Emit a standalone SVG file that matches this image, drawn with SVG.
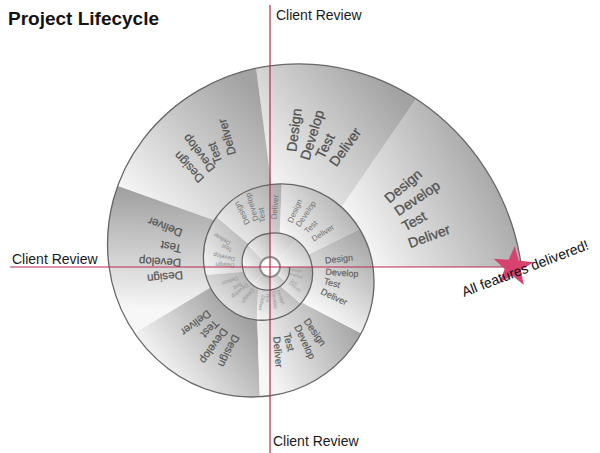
<svg xmlns="http://www.w3.org/2000/svg" width="600" height="453" viewBox="0 0 600 453">
<style>
.t{font-family:"Liberation Sans",Arial,sans-serif;text-anchor:middle;dominant-baseline:central}
.s1{font-size:14px;fill:#525252;stroke:#525252;stroke-width:0.3}
.s2{font-size:12px;fill:#555;stroke:#555;stroke-width:0.25}
.s3{font-size:11.5px;fill:#555;stroke:#555;stroke-width:0.25}
.s4{font-size:11px;fill:#575757;stroke:#575757;stroke-width:0.2}
.s5{font-size:10px;fill:#5a5a5a;stroke:#5a5a5a;stroke-width:0.2}
.s6{font-size:9px;fill:#626262;stroke:#626262;stroke-width:0.15}
.s7{font-size:8px;fill:#747474}
.s8{font-size:6px;fill:#8a8a8a}
.s9{font-size:5.5px;fill:#929292}
.s10{font-size:5px;fill:#969696}
.s11{font-size:4.5px;fill:#9a9a9a}
.lbl{font-family:"Liberation Sans",Arial,sans-serif;font-size:14px;fill:#1a1a1a}
.axis{stroke:#b52a4c;stroke-width:1.2;fill:none}
</style>
<defs>
<linearGradient id="gA" gradientUnits="userSpaceOnUse" x1="350" y1="230" x2="500" y2="150"><stop offset="0" stop-color="#f7f7f7"/><stop offset="1" stop-color="#9f9f9f"/></linearGradient>
<linearGradient id="gB" gradientUnits="userSpaceOnUse" x1="275" y1="195" x2="400" y2="95"><stop offset="0" stop-color="#f7f7f7"/><stop offset="1" stop-color="#a2a2a2"/></linearGradient>
<linearGradient id="gC" gradientUnits="userSpaceOnUse" x1="130" y1="200" x2="245" y2="80"><stop offset="0" stop-color="#f7f7f7"/><stop offset="1" stop-color="#a2a2a2"/></linearGradient>
<linearGradient id="gD" gradientUnits="userSpaceOnUse" x1="160" y1="310" x2="165" y2="190"><stop offset="0" stop-color="#f7f7f7"/><stop offset="1" stop-color="#a0a0a0"/></linearGradient>
<linearGradient id="gE" gradientUnits="userSpaceOnUse" x1="140" y1="350" x2="220" y2="285"><stop offset="0" stop-color="#f7f7f7"/><stop offset="1" stop-color="#a0a0a0"/></linearGradient>
<linearGradient id="gF" gradientUnits="userSpaceOnUse" x1="262" y1="365" x2="360" y2="320"><stop offset="0" stop-color="#f7f7f7"/><stop offset="1" stop-color="#a0a0a0"/></linearGradient>
<linearGradient id="gG" gradientUnits="userSpaceOnUse" x1="310" y1="305" x2="365" y2="235"><stop offset="0" stop-color="#f7f7f7"/><stop offset="1" stop-color="#a4a4a4"/></linearGradient>
<linearGradient id="gH" gradientUnits="userSpaceOnUse" x1="285" y1="240" x2="350" y2="190"><stop offset="0" stop-color="#f7f7f7"/><stop offset="1" stop-color="#a8a8a8"/></linearGradient>
<linearGradient id="gS" x1="0" y1="1" x2="1" y2="0"><stop offset="0" stop-color="#f8f8f8"/><stop offset="1" stop-color="#ababab"/></linearGradient>
<linearGradient id="gT" x1="0" y1="1" x2="1" y2="0"><stop offset="0" stop-color="#fbfbfb"/><stop offset="1" stop-color="#b8b8b8"/></linearGradient>
</defs>

<rect width="600" height="453" fill="#ffffff"/>

<g id="title"><text x="8" y="25" font-family="Liberation Sans, Arial, sans-serif" font-size="19" font-weight="bold" fill="#141414">Project Lifecycle</text></g>

<g id="spiral">
<g id="seg-a">
<path d="M416.1 98.9 A239 239 0 0 1 521.5 267 L373 267 A99 99 0 0 0 341.5 207 Z" fill="url(#gA)"/>
<text class="t s1" x="403" y="186" transform="rotate(-40 403 186)">Design</text>
<text class="t s1" x="417" y="198" transform="rotate(-34 417 198)">Develop</text>
<text class="t s1" x="414" y="221" transform="rotate(-29 414 221)">Test</text>
<text class="t s1" x="429" y="236" transform="rotate(-20 429 236)">Deliver</text>
</g>
<g id="seg-b">
<path d="M256.1 68.3 A212.7 212.7 0 0 1 416.1 98.9 L341.5 207 A88.7 88.7 0 0 0 271.4 184.4 Z" fill="url(#gB)"/>
<text class="t s1" x="294" y="130" transform="rotate(-83 294 130)">Design</text>
<text class="t s1" x="312" y="135" transform="rotate(-73 312 135)">Develop</text>
<text class="t s1" x="325" y="146" transform="rotate(-63 325 146)">Test</text>
<text class="t s1" x="345" y="147" transform="rotate(-54 345 147)">Deliver</text>
</g>
<g id="seg-c">
<path d="M117.7 186 A187.2 187.2 0 0 1 256.1 68.3 L271.4 184.4 A78.3 78.3 0 0 0 214.2 220.2 Z" fill="url(#gC)"/>
<text class="t s2" x="189" y="167" transform="rotate(-133 189 167)">Design</text>
<text class="t s2" x="199" y="153" transform="rotate(-128 199 153)">Develop</text>
<text class="t s2" x="215" y="153" transform="rotate(-110 215 153)">Test</text>
<text class="t s2" x="227" y="137" transform="rotate(-106 227 137)">Deliver</text>
</g>
<g id="seg-d">
<path d="M134.4 333.2 A162.9 162.9 0 0 1 117.7 186 L214.2 220.2 A68.4 68.4 0 0 0 210.5 287.5 Z" fill="url(#gD)"/>
<text class="t s3" x="165" y="277" transform="rotate(174 165 277)">Design</text>
<text class="t s3" x="160" y="262" transform="rotate(-177 160 262)">Develop</text>
<text class="t s3" x="171" y="247" transform="rotate(-168 171 247)">Test</text>
<text class="t s3" x="165" y="227" transform="rotate(-159 165 227)">Deliver</text>
</g>
<g id="seg-e">
<path d="M259.8 396.8 A141.6 141.6 0 0 1 134.4 333.2 L210.5 287.5 A59.1 59.1 0 0 0 257.3 320 Z" fill="url(#gE)"/>
<text class="t s4" x="229" y="351" transform="rotate(116 229 351)">Design</text>
<text class="t s4" x="214" y="346" transform="rotate(125 214 346)">Develop</text>
<text class="t s4" x="210" y="329" transform="rotate(134 210 329)">Test</text>
<text class="t s4" x="196" y="323" transform="rotate(143 196 323)">Deliver</text>
</g>
<g id="seg-f">
<path d="M361.1 333.2 A122.3 122.3 0 0 1 259.8 396.8 L257.3 320 A51.5 51.5 0 0 0 301.9 302.4 Z" fill="url(#gF)"/>
<text class="t s5" x="315" y="332" transform="rotate(55 315 332)">Design</text>
<text class="t s5" x="305" y="342" transform="rotate(65 305 342)">Develop</text>
<text class="t s5" x="289" y="342" transform="rotate(76 289 342)">Test</text>
<text class="t s5" x="278" y="352" transform="rotate(85 278 352)">Deliver</text>
</g>
<g id="seg-g">
<path d="M359.6 229 A105.7 105.7 0 0 1 361.1 333.2 L301.9 302.4 A44.3 44.3 0 0 0 308.4 254.5 Z" fill="url(#gG)"/>
<text class="t s6" x="339" y="259" transform="rotate(-6 339 259)">Design</text>
<text class="t s6" x="342" y="273" transform="rotate(4 342 273)">Develop</text>
<text class="t s6" x="332" y="283" transform="rotate(15 332 283)">Test</text>
<text class="t s6" x="334" y="297" transform="rotate(25 334 297)">Deliver</text>
</g>
<g id="seg-h">
<path d="M281.7 183.8 A91.3 91.3 0 0 1 359.6 229 L308.4 254.5 A38 38 0 0 0 279.7 233.3 Z" fill="url(#gH)"/>
<text class="t s7" x="295" y="211" transform="rotate(-66 295 211)">Design</text>
<text class="t s7" x="306" y="214" transform="rotate(-56 306 214)">Develop</text>
<text class="t s7" x="311" y="227" transform="rotate(-45 311 227)">Test</text>
<text class="t s7" x="323" y="233" transform="rotate(-32 323 233)">Deliver</text>
</g>
<g id="seg-i">
<path d="M216.4 217 A79.3 79.3 0 0 1 281.7 183.8 L279.7 233.3 A33.6 33.6 0 0 0 248.4 243.9 Z" fill="url(#gS)"/>
<text class="t s7" x="242" y="213" transform="rotate(-117 242 213)">Design</text>
<text class="t s7" x="252" y="207" transform="rotate(-107 252 207)">Develop</text>
<text class="t s7" x="262" y="215" transform="rotate(-98 262 215)">Test</text>
<text class="t s7" x="275" y="207" transform="rotate(-85 275 207)">Deliver</text>
</g>
<g id="seg-j">
<path d="M205.7 274.9 A69.6 69.6 0 0 1 216.4 217 L248.4 243.9 A29.5 29.5 0 0 0 243.5 271.7 Z" fill="url(#gS)"/>
<text class="t s8" x="225" y="265" transform="rotate(-177 225 265)">Design</text>
<text class="t s8" x="224" y="257" transform="rotate(-167 224 257)">Develop</text>
<text class="t s8" x="227" y="248" transform="rotate(-156 227 248)">Test</text>
<text class="t s8" x="222" y="239" transform="rotate(-150 222 239)">Deliver</text>
</g>
<g id="seg-k">
<path d="M256.8 320 A60.1 60.1 0 0 1 205.7 274.9 L243.5 271.7 A25.9 25.9 0 0 0 258.2 288.3 Z" fill="url(#gS)"/>
<text class="t s9" x="248" y="296" transform="rotate(127 248 296)">Design</text>
<text class="t s9" x="240" y="291" transform="rotate(141 240 291)">Develop</text>
<text class="t s9" x="238" y="286" transform="rotate(150 238 286)">Test</text>
<text class="t s9" x="230" y="281" transform="rotate(161 230 281)">Deliver</text>
</g>
<g id="seg-l">
<path d="M300.7 303.6 A51.6 51.6 0 0 1 256.8 320 L258.2 288.3 A23.2 23.2 0 0 0 280.5 286 Z" fill="url(#gS)"/>
<text class="t s10" x="281" y="297" transform="rotate(69 281 297)">Design</text>
<text class="t s10" x="275" y="300" transform="rotate(82 275 300)">Develop</text>
<text class="t s10" x="268" y="298" transform="rotate(94 268 298)">Test</text>
<text class="t s10" x="262" y="303" transform="rotate(102 262 303)">Deliver</text>
</g>
<g id="seg-m">
<path d="M312.2 267 A45.3 45.3 0 0 1 300.7 303.6 L280.5 286 A20.8 20.8 0 0 0 289.5 267 Z" fill="url(#gS)"/>
<text class="t s11" x="295" y="270" transform="rotate(7 295 270)">Design</text>
<text class="t s11" x="295" y="275" transform="rotate(17 295 275)">Develop</text>
<text class="t s11" x="294" y="282" transform="rotate(31 294 282)">Test</text>
<text class="t s11" x="295" y="287" transform="rotate(38 295 287)">Deliver</text>
</g>
<g id="core">
<path d="M289.5 267 A20.4 20.4 0 0 1 284.85 281.85 L277.78 274.78 A11 11 0 0 0 281 267 Z" fill="url(#gT)"/>
<path d="M284.85 281.85 A22.2 22.2 0 0 1 270 290 L270 278 A11 11 0 0 0 277.78 274.78 Z" fill="url(#gT)"/>
<path d="M270 290 A24.2 24.2 0 0 1 252.32 284.68 L262.22 274.78 A11 11 0 0 0 270 278 Z" fill="url(#gT)"/>
<path d="M252.32 284.68 A26.5 26.5 0 0 1 242.5 267 L259 267 A11 11 0 0 0 262.22 274.78 Z" fill="url(#gT)"/>
<path d="M242.5 267 A29.7 29.7 0 0 1 247.73 244.73 L262.22 259.22 A11 11 0 0 0 259 267 Z" fill="url(#gT)"/>
<path d="M247.73 244.73 A32.9 32.9 0 0 1 270 233.25 L270 256 A11 11 0 0 0 262.22 259.22 Z" fill="url(#gT)"/>
<path d="M270 233.25 A36 36 0 0 1 296.66 240.34 L277.78 259.22 A11 11 0 0 0 270 256 Z" fill="url(#gT)"/>
<path d="M296.66 240.34 A40.3 40.3 0 0 1 312.2 267 L281 267 A11 11 0 0 0 277.78 259.22 Z" fill="url(#gT)"/>
<circle cx="270" cy="267" r="10" fill="#ffffff" stroke="#8c8c8c" stroke-width="2"/>
</g>
<path id="spiral-edge" fill="none" stroke="#666666" stroke-width="1.3" d="M289.5 267 A20.4 20.4 0 0 1 284.85 281.85 A22.2 22.2 0 0 1 270 290 A24.2 24.2 0 0 1 252.32 284.68 A26.5 26.5 0 0 1 242.5 267 A29.7 29.7 0 0 1 247.73 244.73 A32.9 32.9 0 0 1 270 233.25 A36 36 0 0 1 296.66 240.34 A40.3 40.3 0 0 1 312.2 267 A45.1 45.1 0 0 1 303.38 300.38 A50.4 50.4 0 0 1 270 319.7 A56.3 56.3 0 0 1 228.35 308.65 A62.9 62.9 0 0 1 204.1 267 A70.4 70.4 0 0 1 217.89 214.89 A78.7 78.7 0 0 1 270 184.6 A88 88 0 0 1 335.12 201.88 A98.4 98.4 0 0 1 373 267 A110 110 0 0 1 351.46 348.46 A123 123 0 0 1 270 395.75 A137.5 137.5 0 0 1 168.25 368.75 A153.7 153.7 0 0 1 109.1 267 A171.8 171.8 0 0 1 142.79 139.79 A192.2 192.2 0 0 1 270 65.8 A214.8 214.8 0 0 1 429.03 107.97 A240.2 240.2 0 0 1 521.5 267"/>
</g>

<g id="connectors">
<line class="axis" x1="270" y1="5" x2="270" y2="453"/>
<line class="axis" x1="10" y1="267" x2="517" y2="267"/>
</g>

<g id="review-top"><text class="lbl" x="276" y="20">Client Review</text></g>
<g id="review-left"><text class="lbl" x="12" y="264">Client Review</text></g>
<g id="review-bottom"><text class="lbl" x="273" y="446">Client Review</text></g>

<g id="end">
<polygon points="514.83,246.08 518.58,260.58 533.46,262.28 520.82,270.32 523.82,285 512.26,275.47 499.22,282.85 504.72,268.91 493.67,258.8 508.62,259.71" fill="#d8436e"/>
<text x="464" y="297" transform="rotate(-21 464 297)" font-family="Liberation Sans, Arial, sans-serif" font-size="14" fill="#111111">All features delivered!</text>
</g>
</svg>
